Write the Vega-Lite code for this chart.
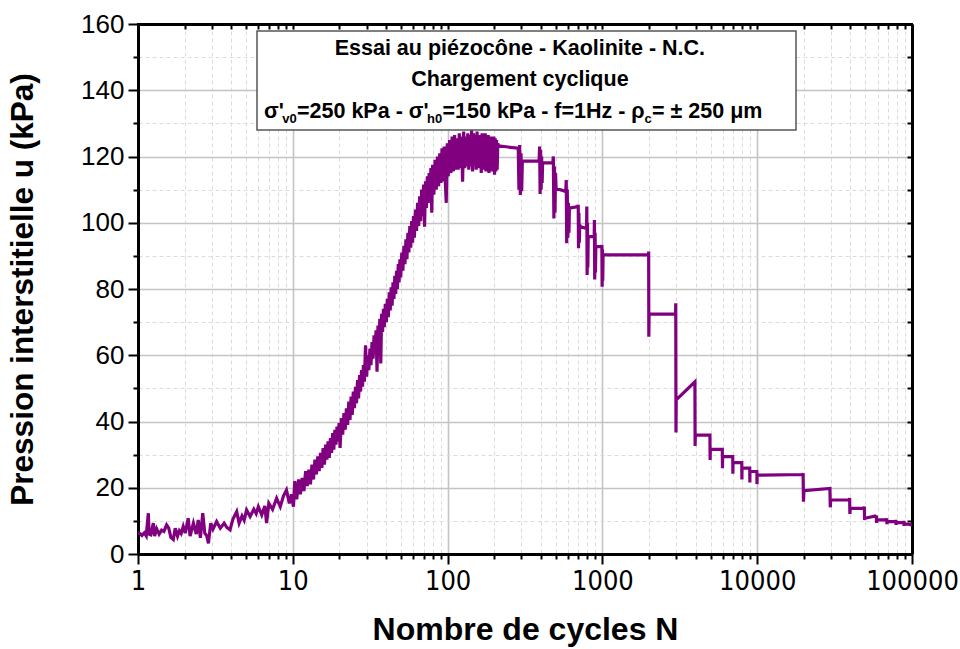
{
"$schema": "https://vega.github.io/schema/vega-lite/v6.json",
"width": 774, "height": 530,
"autosize": "none",
"padding": {"left": 138, "top": 24, "right": 48, "bottom": 95},
"background": "white",
"config": {"view": {"stroke": "#000", "strokeWidth": 2}, "font": "Liberation Sans"},
"datasets": {"curve": [
{"N":1,"u":6.5},{"N":1.03,"u":6.2},{"N":1.06,"u":5.6},{"N":1.1,"u":6.4},{"N":1.13,"u":5.5},{"N":1.166,"u":12.3},{"N":1.18,"u":6.0},{"N":1.21,"u":5.8},{"N":1.256,"u":9.3},{"N":1.28,"u":5.4},{"N":1.32,"u":7.6},{"N":1.37,"u":6.0},{"N":1.42,"u":7.2},{"N":1.47,"u":6.8},{"N":1.53,"u":8.8},{"N":1.58,"u":7.8},{"N":1.63,"u":5.0},{"N":1.69,"u":4.4},{"N":1.74,"u":7.8},{"N":1.8,"u":5.4},{"N":1.85,"u":7.0},{"N":1.9,"u":6.2},{"N":1.96,"u":8.3},{"N":2.02,"u":6.3},{"N":2.11,"u":10.8},{"N":2.17,"u":5.4},{"N":2.28,"u":9.3},{"N":2.38,"u":6.0},{"N":2.45,"u":10.3},{"N":2.53,"u":4.9},{"N":2.62,"u":12.3},{"N":2.7,"u":6.3},{"N":2.78,"u":5.5},{"N":2.85,"u":3.2},{"N":2.95,"u":9.3},{"N":3.05,"u":7.5},{"N":3.22,"u":9.8},{"N":3.4,"u":7.8},{"N":3.6,"u":9.3},{"N":3.75,"u":8.0},{"N":3.93,"u":7.3},{"N":4.1,"u":10.5},{"N":4.34,"u":12.8},{"N":4.5,"u":9.3},{"N":4.7,"u":11.5},{"N":4.85,"u":10.2},{"N":5.03,"u":13.3},{"N":5.3,"u":11.3},{"N":5.6,"u":13.5},{"N":5.8,"u":12.2},{"N":5.99,"u":14.3},{"N":6.3,"u":11.8},{"N":6.6,"u":14.5},{"N":6.77,"u":9.3},{"N":7.0,"u":15.3},{"N":7.4,"u":13.5},{"N":7.86,"u":16.8},{"N":8.3,"u":14.3},{"N":8.7,"u":17.5},{"N":9.1,"u":19.3},{"N":9.5,"u":15.3},{"N":9.8,"u":18},{"N":10.1,"u":14.3},
{"N":10.3,"u":22},{"N":10.6,"u":16.5},{"N":10.9,"u":22.5},{"N":11.2,"u":18},{"N":11.5,"u":23},{"N":11.8,"u":19},{"N":12.1,"u":25},{"N":12.4,"u":20.5},{"N":12.7,"u":25.5},{"N":13.0,"u":21},{"N":13.3,"u":27},{"N":13.6,"u":22.5},{"N":13.9,"u":28.5},{"N":14.2,"u":24},{"N":14.5,"u":29.5},{"N":14.8,"u":25},{"N":15.1,"u":30.5},{"N":15.4,"u":26},{"N":15.7,"u":32},{"N":16.0,"u":27},{"N":16.3,"u":33},{"N":16.6,"u":28.5},{"N":16.9,"u":34},{"N":17.2,"u":29},{"N":17.5,"u":35},{"N":17.8,"u":30.5},{"N":18.1,"u":36.5},{"N":18.4,"u":31.5},{"N":18.7,"u":37.5},{"N":19.0,"u":33},{"N":19.3,"u":38.5},{"N":19.6,"u":34},{"N":19.9,"u":39.5},{"N":20.2,"u":32},
{"N":20.6,"u":41},{"N":21.0,"u":36},{"N":21.4,"u":42.5},{"N":21.8,"u":37.5},{"N":22.2,"u":44},{"N":22.6,"u":39},{"N":23.0,"u":46},{"N":23.4,"u":40.5},{"N":23.8,"u":47.5},{"N":24.2,"u":42},{"N":24.6,"u":49},{"N":25.0,"u":44},{"N":25.4,"u":50.5},{"N":25.8,"u":45.5},{"N":26.2,"u":52.5},{"N":26.6,"u":47},{"N":27.0,"u":54},{"N":27.4,"u":49},{"N":27.8,"u":55.5},{"N":28.2,"u":50.5},{"N":28.6,"u":57},{"N":29.0,"u":52},{"N":29.5,"u":63},{"N":30.0,"u":53.5},{"N":30.5,"u":60},{"N":31.0,"u":55.5},{"N":31.5,"u":62},{"N":32.0,"u":57},{"N":32.5,"u":64},{"N":33.0,"u":59},{"N":33.5,"u":66},{"N":34.0,"u":60.5},{"N":34.5,"u":67.5},{"N":35.0,"u":55},{"N":35.5,"u":69},{"N":36.0,"u":64},{"N":36.5,"u":71},{"N":37.0,"u":57.5},{"N":37.5,"u":72.5},{"N":38.0,"u":67},{"N":38.5,"u":74},{"N":39.0,"u":68.5},{"N":39.6,"u":75.5},
{"N":40.2,"u":70},{"N":40.8,"u":77},{"N":41.4,"u":71.5},{"N":42.0,"u":79},{"N":42.6,"u":73.5},{"N":43.2,"u":80.5},{"N":43.8,"u":75},{"N":44.4,"u":82},{"N":45.0,"u":77},{"N":45.6,"u":84},{"N":46.2,"u":78.5},{"N":46.8,"u":85.5},{"N":47.4,"u":80},{"N":48.0,"u":87.5},{"N":48.6,"u":82},{"N":49.2,"u":89},{"N":49.8,"u":83.5},{"N":50.6,"u":91},{"N":51.4,"u":85.5},{"N":52.2,"u":93},{"N":53.0,"u":87.5},{"N":53.8,"u":95},{"N":54.6,"u":89},{"N":55.4,"u":97},{"N":56.2,"u":91},{"N":57.0,"u":99},{"N":57.8,"u":92.5},{"N":58.6,"u":100.5},{"N":59.4,"u":94},{"N":60.2,"u":102},{"N":61.0,"u":95.5},{"N":62.0,"u":104},{"N":63.0,"u":97.5},{"N":64.0,"u":106},{"N":65.0,"u":99},{"N":66.0,"u":108},{"N":67.0,"u":100.5},{"N":68.0,"u":110},{"N":69.0,"u":102},{"N":70.0,"u":111.5},{"N":71.0,"u":98.8},{"N":72.0,"u":112.5},{"N":73.0,"u":104.5},{"N":74.0,"u":114},{"N":75.0,"u":106},{"N":76.0,"u":115},{"N":77.0,"u":107},{"N":78.0,"u":116.5},{"N":79.0,"u":103},{"N":80.0,"u":117.5},{"N":81.5,"u":108.5},{"N":83.0,"u":119},{"N":84.5,"u":110},{"N":86.0,"u":120},{"N":87.5,"u":111},{"N":89.0,"u":121},{"N":90.5,"u":112},{"N":92.0,"u":122.5},{"N":93.5,"u":112.5},{"N":95.0,"u":123},{"N":96.5,"u":113},{"N":98.0,"u":106},{"N":99.5,"u":124},
{"N":101,"u":114},{"N":103,"u":125},{"N":105,"u":115},{"N":107,"u":126},{"N":109,"u":115.5},{"N":111,"u":126.5},{"N":113,"u":116},{"N":115,"u":125.5},{"N":117,"u":116},{"N":119,"u":127},{"N":121,"u":116.5},{"N":123,"u":126},{"N":125,"u":112.4},{"N":127,"u":127.5},{"N":129,"u":116.5},{"N":131,"u":126},{"N":133,"u":117},{"N":135,"u":127},{"N":137,"u":116},{"N":139,"u":126.5},{"N":141,"u":117},{"N":143,"u":128},{"N":145,"u":115.5},{"N":147,"u":127},{"N":149,"u":117},{"N":151,"u":126.5},{"N":153,"u":116},{"N":155,"u":127.5},{"N":157,"u":116.5},{"N":159,"u":126},{"N":161,"u":117},{"N":163,"u":126.5},{"N":165,"u":115},{"N":167,"u":127},{"N":169,"u":116.5},{"N":171,"u":126},{"N":173,"u":116},{"N":175,"u":127},{"N":177,"u":115.5},{"N":179,"u":126},{"N":181,"u":116},{"N":183,"u":126.5},{"N":185,"u":115},{"N":187,"u":125.5},{"N":189,"u":116},{"N":191,"u":126},{"N":193,"u":115.5},{"N":195,"u":125},{"N":197,"u":116},{"N":199,"u":126},{"N":201,"u":114.5},{"N":203,"u":125.5},{"N":205,"u":115.5},{"N":207,"u":125},{"N":209,"u":116},{"N":211,"u":124},
{"N":213,"u":123.2},{"N":286,"u":122.5},{"N":289,"u":110},{"N":292,"u":123.5},{"N":295,"u":108.4},{"N":298,"u":121},{"N":301,"u":109.5},{"N":304,"u":118.6},{"N":390,"u":118.6},{"N":393,"u":123},{"N":396,"u":108.7},{"N":399,"u":122},{"N":402,"u":110},{"N":405,"u":120},{"N":408,"u":112},{"N":411,"u":118.1},{"N":478,"u":118.1},{"N":482,"u":120},{"N":486,"u":101.3},{"N":490,"u":117},{"N":494,"u":103},{"N":498,"u":115},{"N":502,"u":110.4},{"N":580,"u":109.4},{"N":584,"u":112.9},{"N":588,"u":93.8},{"N":593,"u":110},{"N":598,"u":95.5},{"N":603,"u":106},{"N":608,"u":97},{"N":612,"u":104.4},{"N":695,"u":104.9},{"N":698,"u":105.4},{"N":701,"u":92.3},{"N":705,"u":103},{"N":709,"u":94},{"N":714,"u":99.5},{"N":718,"u":98.8},{"N":790,"u":98.3},{"N":793,"u":104.9},{"N":797,"u":84.2},{"N":801,"u":100},{"N":805,"u":86.5},{"N":810,"u":95.8},{"N":885,"u":95.8},{"N":888,"u":100.8},{"N":892,"u":82.9},{"N":897,"u":97},{"N":902,"u":85},{"N":907,"u":92.8},{"N":988,"u":92.8},{"N":992,"u":93.3},{"N":996,"u":80.7},{"N":1001,"u":92},{"N":1005,"u":82.5},{"N":1010,"u":90.3},
{"N":1985,"u":90.3},{"N":1990,"u":91.3},{"N":1995,"u":65.6},{"N":2002,"u":72.4},{"N":2970,"u":72.4},{"N":2978,"u":75.7},{"N":2988,"u":36.7},{"N":2998,"u":46.5},{"N":3960,"u":52},{"N":3970,"u":32.6},{"N":3985,"u":35.9},{"N":4950,"u":35.9},{"N":4965,"u":28.4},{"N":4980,"u":31.6},{"N":5950,"u":31.6},{"N":5965,"u":25.9},{"N":5980,"u":29.4},{"N":6950,"u":29.4},{"N":6965,"u":24.2},{"N":6980,"u":27.6},{"N":7950,"u":27.6},{"N":7965,"u":22.5},{"N":7980,"u":25.9},{"N":8950,"u":25.9},{"N":8965,"u":21.6},{"N":8980,"u":24.9},{"N":9940,"u":24.9},{"N":9955,"u":24.4},{"N":9970,"u":21.1},{"N":9990,"u":23.8},{"N":19700,"u":24.0},{"N":19800,"u":24.4},{"N":19900,"u":15.8},{"N":20050,"u":19.1},{"N":29500,"u":19.8},{"N":29650,"u":14.1},{"N":29850,"u":16.3},{"N":39400,"u":16.3},{"N":39550,"u":16.9},{"N":39700,"u":12.1},{"N":39900,"u":13.8},{"N":49000,"u":13.8},{"N":49200,"u":14.3},{"N":49400,"u":10.3},{"N":49600,"u":10.8},{"N":58700,"u":11.5},{"N":58850,"u":11.6},{"N":59000,"u":9.4},{"N":59200,"u":10.3},{"N":68500,"u":10.3},{"N":68700,"u":10.8},{"N":68900,"u":9.0},{"N":69100,"u":9.8},{"N":78500,"u":9.8},{"N":78700,"u":10.3},{"N":78900,"u":8.8},{"N":79100,"u":9.5},{"N":88500,"u":9.5},{"N":88700,"u":10.0},{"N":88900,"u":8.5},{"N":89100,"u":9.2},{"N":100000,"u":8.8}
]},
"layer": [
{
 "data": {"name": "curve"},
 "mark": {"type": "line", "color": "#800080", "strokeWidth": 3.2, "clip": true, "strokeJoin": "miter"},
 "encoding": {
  "x": {"field": "N", "type": "quantitative", "scale": {"type": "log", "domain": [1, 100000], "nice": false},
   "axis": {"orient": "bottom", "values": [1,2,3,4,5,6,7,8,9,10,20,30,40,50,60,70,80,90,100,200,300,400,500,600,700,800,900,1000,2000,3000,4000,5000,6000,7000,8000,9000,10000,20000,30000,40000,50000,60000,70000,80000,90000,100000],
    "format": "d",
    "labelExpr": "indexof([1,10,100,1000,10000,100000], datum.value) >= 0 ? datum.label : ''",
    "labelFont": "'Liberation Sans Narrow', 'DejaVu Sans Condensed', sans-serif", "labelFontSize": 27, "labelColor": "#000", "labelPadding": 4,
    "labelOverlap": false, "labelFlush": false, "labelBound": false,
    "tickColor": "#000", "tickWidth": 2,
    "tickSize": {"condition": {"test": "indexof([1,10,100,1000,10000,100000], datum.value) >= 0", "value": 10}, "value": 5},
    "domainColor": "#000", "domainWidth": 3,
    "grid": true,
    "gridColor": {"condition": {"test": "indexof([1,10,100,1000,10000,100000], datum.value) >= 0", "value": "#c4c4c4"}, "value": "#dcdcdc"},
    "gridDash": {"condition": {"test": "indexof([1,10,100,1000,10000,100000], datum.value) >= 0", "value": []}, "value": [4, 3]},
    "gridWidth": {"condition": {"test": "indexof([1,10,100,1000,10000,100000], datum.value) >= 0", "value": 1.6}, "value": 1},
    "title": "Nombre de cycles N", "titleFont": "Liberation Sans", "titleFontSize": 32, "titleFontWeight": "bold", "titleColor": "#000", "titlePadding": 20}},
  "y": {"field": "u", "type": "quantitative", "scale": {"domain": [0, 160], "nice": false, "zero": false},
   "axis": {"orient": "left", "values": [0,10,20,30,40,50,60,70,80,90,100,110,120,130,140,150,160],
    "labelExpr": "datum.value % 20 == 0 ? datum.label : ''",
    "labelFont": "Liberation Sans", "labelFontSize": 26, "labelColor": "#000", "labelPadding": 4, "labelOverlap": false,
    "tickColor": "#000", "tickWidth": 2,
    "tickSize": {"condition": {"test": "datum.value % 20 == 0", "value": 10}, "value": 5},
    "domainColor": "#000", "domainWidth": 3,
    "grid": true,
    "gridColor": {"condition": {"test": "datum.value % 20 == 0", "value": "#c4c4c4"}, "value": "#dcdcdc"},
    "gridDash": {"condition": {"test": "datum.value % 20 == 0", "value": []}, "value": [4, 3]},
    "gridWidth": {"condition": {"test": "datum.value % 20 == 0", "value": 1.6}, "value": 1},
    "title": "Pression interstitielle u (kPa)", "titleFont": "Liberation Sans", "titleFontSize": 31.5, "titleFontWeight": "bold", "titleColor": "#000", "titlePadding": 41}}
 }
},
{
 "data": {"values": [{}]},
 "mark": {"type": "rect", "fill": "white", "stroke": "#555", "strokeWidth": 1.5},
 "encoding": {
  "x": {"datum": 5.872, "type": "quantitative", "axis": null},
  "x2": {"datum": 17810},
  "y": {"datum": 128, "type": "quantitative", "axis": null},
  "y2": {"datum": 157.9}
 }
},
{
 "data": {"values": [{}]},
 "mark": {"type": "text", "font": "Liberation Sans", "fontWeight": "bold", "fontSize": 21.5, "align": "center", "baseline": "alphabetic", "color": "#000"},
 "encoding": {"x": {"datum": 293, "type": "quantitative", "axis": null}, "y": {"datum": 150.6, "type": "quantitative", "axis": null}, "text": {"value": "Essai au piézocône - Kaolinite - N.C."}}
},
{
 "data": {"values": [{}]},
 "mark": {"type": "text", "font": "Liberation Sans", "fontWeight": "bold", "fontSize": 21.5, "align": "center", "baseline": "alphabetic", "color": "#000"},
 "encoding": {"x": {"datum": 293, "type": "quantitative", "axis": null}, "y": {"datum": 141.3, "type": "quantitative", "axis": null}, "text": {"value": "Chargement cyclique"}}
},
{
 "data": {"values": [{}]},
 "mark": {"type": "text", "font": "Liberation Sans", "fontWeight": "bold", "fontSize": 21.5, "align": "left", "baseline": "alphabetic", "color": "#000"},
 "encoding": {"x": {"datum": 6.515, "type": "quantitative", "axis": null}, "y": {"datum": 131.6, "type": "quantitative", "axis": null}, "text": {"value": "σ'"}}
},
{
 "data": {"values": [{}]},
 "mark": {"type": "text", "font": "Liberation Sans", "fontWeight": "bold", "fontSize": 13, "align": "left", "baseline": "alphabetic", "color": "#000"},
 "encoding": {"x": {"datum": 8.548, "type": "quantitative", "axis": null}, "y": {"datum": 130.1, "type": "quantitative", "axis": null}, "text": {"value": "v0"}}
},
{
 "data": {"values": [{}]},
 "mark": {"type": "text", "font": "Liberation Sans", "fontWeight": "bold", "fontSize": 21.5, "align": "left", "baseline": "alphabetic", "color": "#000"},
 "encoding": {"x": {"datum": 10.645, "type": "quantitative", "axis": null}, "y": {"datum": 131.6, "type": "quantitative", "axis": null}, "text": {"value": "=250 kPa - σ'"}}
},
{
 "data": {"values": [{}]},
 "mark": {"type": "text", "font": "Liberation Sans", "fontWeight": "bold", "fontSize": 13, "align": "left", "baseline": "alphabetic", "color": "#000"},
 "encoding": {"x": {"datum": 73.6, "type": "quantitative", "axis": null}, "y": {"datum": 130.1, "type": "quantitative", "axis": null}, "text": {"value": "h0"}}
},
{
 "data": {"values": [{}]},
 "mark": {"type": "text", "font": "Liberation Sans", "fontWeight": "bold", "fontSize": 21.5, "align": "left", "baseline": "alphabetic", "color": "#000"},
 "encoding": {"x": {"datum": 92.7, "type": "quantitative", "axis": null}, "y": {"datum": 131.6, "type": "quantitative", "axis": null}, "text": {"value": "=150 kPa - f=1Hz - ρ"}}
},
{
 "data": {"values": [{}]},
 "mark": {"type": "text", "font": "Liberation Sans", "fontWeight": "bold", "fontSize": 13, "align": "left", "baseline": "alphabetic", "color": "#000"},
 "encoding": {"x": {"datum": 1871, "type": "quantitative", "axis": null}, "y": {"datum": 130.1, "type": "quantitative", "axis": null}, "text": {"value": "c"}}
},
{
 "data": {"values": [{}]},
 "mark": {"type": "text", "font": "Liberation Sans", "fontWeight": "bold", "fontSize": 21.5, "align": "left", "baseline": "alphabetic", "color": "#000"},
 "encoding": {"x": {"datum": 2091, "type": "quantitative", "axis": null}, "y": {"datum": 131.6, "type": "quantitative", "axis": null}, "text": {"value": "= ± 250 μm"}}
},
{
 "data": {"name": "curve"},
 "mark": {"type": "line", "opacity": 0},
 "encoding": {
  "x": {"field": "N", "type": "quantitative",
   "axis": {"orient": "top", "values": [1,2,3,4,5,6,7,8,9,10,20,30,40,50,60,70,80,90,100,200,300,400,500,600,700,800,900,1000,2000,3000,4000,5000,6000,7000,8000,9000,10000,20000,30000,40000,50000,60000,70000,80000,90000,100000],
    "labels": false, "grid": false, "title": null, "tickColor": "#000", "tickWidth": 2, "tickSize": -5, "domainColor": "#000", "domainWidth": 3}},
  "y": {"field": "u", "type": "quantitative",
   "axis": {"orient": "right", "values": [0,10,20,30,40,50,60,70,80,90,100,110,120,130,140,150,160],
    "labels": false, "grid": false, "title": null, "tickColor": "#000", "tickWidth": 2, "tickSize": -5, "domainColor": "#000", "domainWidth": 3}}
 }
}
],
"resolve": {"axis": {"x": "independent", "y": "independent"}}
}
